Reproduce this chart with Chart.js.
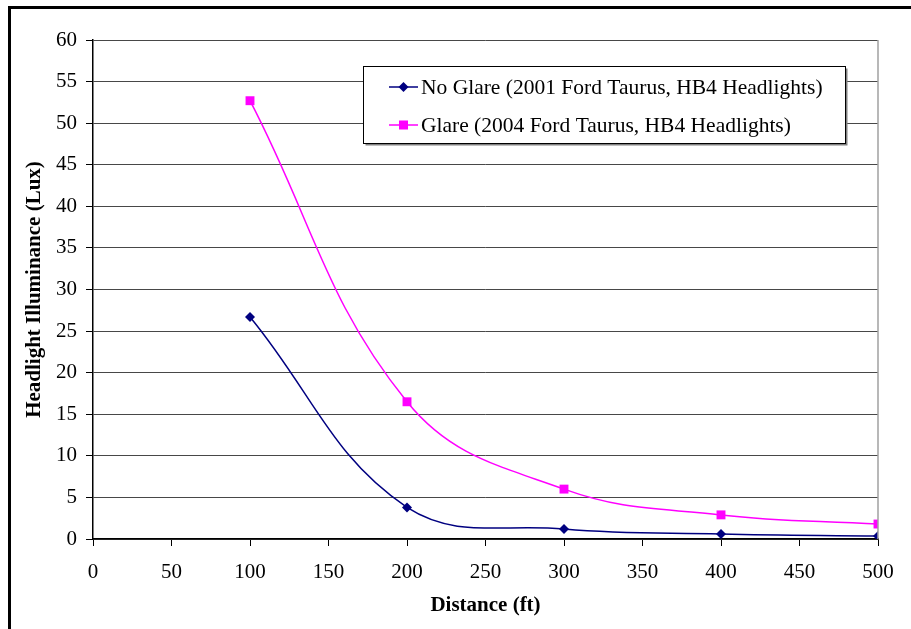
<!DOCTYPE html>
<html>
<head>
<meta charset="utf-8">
<script src="https://cdn.jsdelivr.net/npm/chart.js@4.4.0/dist/chart.umd.min.js"></script>
<style>
  html, body { margin: 0; padding: 0; background: #fff; }
  #wrap { width: 911px; height: 629px; position: relative; }
</style>
</head>
<body>
<div id="wrap"><canvas id="chart1" width="911" height="629"></canvas></div>
<script>
// data
const distances = [100, 200, 300, 400, 500];
const noGlare = [26.7, 3.8, 1.2, 0.6, 0.35];
const glare = [52.7, 16.5, 6.0, 2.9, 1.8];
const seriesNames = [
  "No Glare (2001 Ford Taurus, HB4 Headlights)",
  "Glare (2004 Ford Taurus, HB4 Headlights)"
];
const xTitle = "Distance (ft)";
const yTitle = "Headlight Illuminance (Lux)";

const SERIF = "'Liberation Serif', 'Times New Roman', serif";
const NAVY = "#000080";
const MAGENTA = "#FF00FF";

function toPoints(xs, ys) {
  return xs.map((x, i) => ({ x: x, y: ys[i] }));
}

// draws the outer frame, plot border and the legend box inside the plot
const excelLook = {
  id: "excelLook",
  beforeDraw(chart) {
    const ctx = chart.ctx;
    ctx.save();
    ctx.fillStyle = "#fff";
    ctx.fillRect(0, 0, chart.width, chart.height);
    ctx.strokeStyle = "#000";
    ctx.lineWidth = 3;
    ctx.beginPath();
    ctx.moveTo(9.5, chart.height + 2);
    ctx.lineTo(9.5, 7.5);
    ctx.lineTo(chart.width + 2, 7.5);
    ctx.stroke();
    ctx.restore();
  },
  afterDatasetsDraw(chart) {
    const ctx = chart.ctx;
    const a = chart.chartArea;
    ctx.save();
    // right border of plot
    ctx.strokeStyle = "#a0a0a0";
    ctx.lineWidth = 1.5;
    ctx.beginPath();
    ctx.moveTo(a.right, a.top);
    ctx.lineTo(a.right, a.bottom);
    ctx.stroke();

    // legend
    const lx = 363.5, ly = 66.5, lw = 482, lh = 77;
    ctx.fillStyle = "#808080";
    ctx.fillRect(lx + 2, ly + 2, lw, lh);
    ctx.fillStyle = "#fff";
    ctx.fillRect(lx, ly, lw, lh);
    ctx.strokeStyle = "#000";
    ctx.lineWidth = 1;
    ctx.strokeRect(lx, ly, lw, lh);

    const rows = [
      { name: seriesNames[0], color: NAVY, shape: "diamond", y: 87 },
      { name: seriesNames[1], color: MAGENTA, shape: "square", y: 125 }
    ];
    ctx.font = "21.5px " + SERIF;
    ctx.textBaseline = "middle";
    rows.forEach(r => {
      ctx.strokeStyle = r.color;
      ctx.lineWidth = 1.5;
      ctx.beginPath();
      ctx.moveTo(389, r.y);
      ctx.lineTo(418, r.y);
      ctx.stroke();
      ctx.fillStyle = r.color;
      if (r.shape === "square") {
        ctx.fillRect(399, r.y - 4.5, 9, 9);
      } else {
        ctx.beginPath();
        ctx.moveTo(403.5, r.y - 5);
        ctx.lineTo(408.5, r.y);
        ctx.lineTo(403.5, r.y + 5);
        ctx.lineTo(398.5, r.y);
        ctx.closePath();
        ctx.fill();
      }
      ctx.fillStyle = "#000";
      ctx.fillText(r.name, 421, r.y + 1);
    });
    ctx.restore();
  }
};

const ctx = document.getElementById("chart1").getContext("2d");
const chart1 = new Chart(ctx, {
  type: "scatter",
  data: {
    datasets: [
      {
        label: seriesNames[0],
        data: toPoints(distances, noGlare),
        borderColor: NAVY,
        backgroundColor: NAVY,
        borderWidth: 1.5,
        showLine: true,
        tension: 0.4,
        pointStyle: "rectRot",
        pointRadius: 5,
        pointBorderWidth: 0
      },
      {
        label: seriesNames[1],
        data: toPoints(distances, glare),
        borderColor: MAGENTA,
        backgroundColor: MAGENTA,
        borderWidth: 1.5,
        showLine: true,
        tension: 0.4,
        pointStyle: "rect",
        pointRadius: 6.3,
        pointBorderWidth: 0
      }
    ]
  },
  options: {
    responsive: false,
    animation: false,
    events: [],
    layout: { padding: { left: 10, top: 40, right: 33, bottom: 0 } },
    plugins: {
      legend: { display: false },
      tooltip: { enabled: false }
    },
    scales: {
      x: {
        type: "linear",
        min: 0,
        max: 500,
        ticks: {
          stepSize: 50,
          color: "#000",
          padding: 14,
          maxRotation: 0,
          font: { family: SERIF, size: 21 }
        },
        grid: {
          drawOnChartArea: false,
          color: "#000",
          tickLength: 7
        },
        border: { color: "#000", width: 1.5 },
        title: {
          display: true,
          text: xTitle,
          color: "#000",
          padding: { top: 4, bottom: 11 },
          font: { family: SERIF, size: 21, weight: "bold" }
        },
        afterFit(scale) { scale.height = 90; }
      },
      y: {
        min: 0,
        max: 60,
        ticks: {
          stepSize: 5,
          color: "#000",
          padding: 9,
          font: { family: SERIF, size: 21 }
        },
        grid: {
          color: "#484848",
          lineWidth: 1,
          tickLength: 7,
          tickColor: "#000"
        },
        border: { color: "#000", width: 1.5 },
        title: {
          display: true,
          text: yTitle,
          color: "#000",
          padding: { top: 12, bottom: 0 },
          font: { family: SERIF, size: 21, weight: "bold" }
        },
        afterFit(scale) { scale.width = 83; }
      }
    }
  },
  plugins: [excelLook]
});
</script>
</body>
</html>
